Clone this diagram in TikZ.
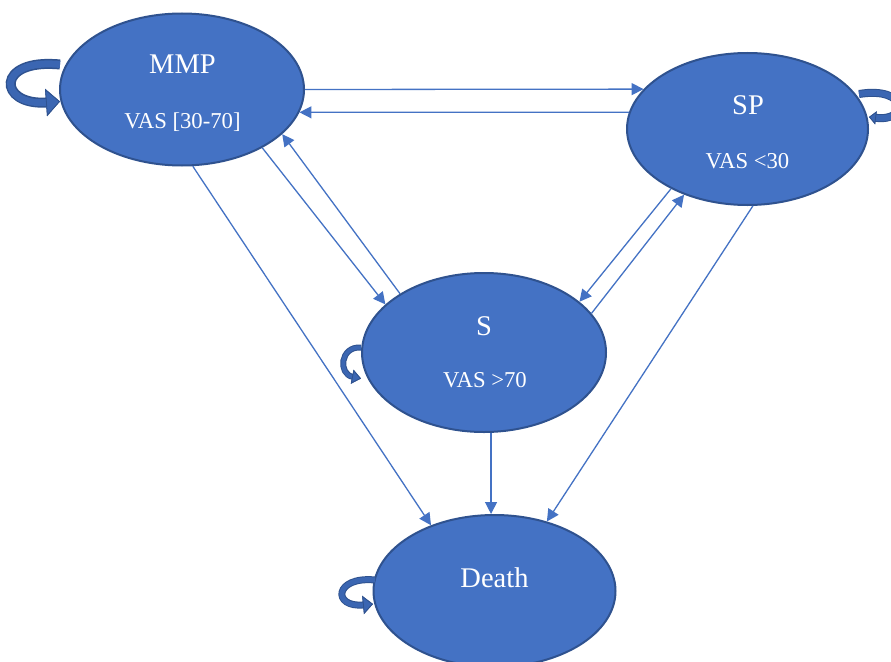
\documentclass[tikz,border=0pt]{standalone}
\usepackage{fontspec}
\setmainfont{Liberation Serif}
\usetikzlibrary{shapes.geometric,arrows.meta,calc}
\definecolor{fillc}{HTML}{4472C4}
\definecolor{edgec}{HTML}{2F528F}
\definecolor{loopc}{HTML}{3B66B2}
\begin{document}
\begin{tikzpicture}[x=1pt,y=-1pt,
  state/.style={ellipse, draw=edgec, fill=fillc, line width=2pt, inner sep=0pt},
  bigtxt/.style={text=white, font=\fontsize{28.5}{30}\selectfont, anchor=base, inner sep=0pt},
  smalltxt/.style={text=white, font=\fontsize{22.7}{25}\selectfont, anchor=base, inner sep=0pt},
  link/.style={draw=fillc, line width=1.3pt, -{Triangle[length=12pt,width=12pt]}},
  loopband/.style n args={4}{draw=loopc, line width=#1,
     -{Triangle[length=#3,width=#4,color=edgec,fill=loopc,line width=0.8pt]},
     preaction={draw=edgec, line width=#2, -{Triangle[length=#3,width=#4]}}},
]
\clip (0,0) rectangle (891,661);
\fill[white] (0,0) rectangle (891,661);

% states
\node[state, minimum width=244pt, minimum height=152pt] (mmp) at (182,89.5) {};
\node[state, minimum width=241pt, minimum height=152pt] (sp) at (747.5,129) {};
\node[state, minimum width=244pt, minimum height=159pt] (s) at (484,352.5) {};
\node[state, minimum width=242pt, minimum height=152pt] (death) at (494.5,591) {};

% texts
\node[bigtxt] (mmpT) at (182.5,74) {MMP};
\node[smalltxt] (mmpV) at (182.5,128) {VAS [30-70]};
\node[bigtxt] (spT) at (748,114) {SP};
\node[smalltxt] (spV) at (747.5,168) {VAS <30};
\node[bigtxt] (sT) at (484,335) {S};
\node[smalltxt] (sV) at (485,387) {VAS >70};
\node[bigtxt] (deathT) at (494.5,587) {Death};

% connectors
\draw[link] (mmp.0) -- (sp.159);
\draw[link] (sp.172) -- (mmp.-11);
\draw[link] (mmp.-36) -- (s.154);
\draw[link] (s.145) -- (mmp.-24);
\draw[link] (sp.-142.5) -- (s.28);
\draw[link] (s.20) -- (sp.-134);
\draw[link] (mmp.-82) -- (death.134);
\draw[link] (s.-85) -- (s.-85 |- death.north);
\draw[link] (sp.-86) -- (death.53);

% self loops
\coordinate (mmpLa) at ($(mmp.west)+(1,-25)$);
\coordinate (mmpLb) at ($(mmp.west)+(1,12)$);
\draw[loopband={7pt}{10pt}{14pt}{27pt}] (mmpLa) .. controls (-5,58) and (-2,106) .. (mmpLb);

\coordinate (spLa) at ($(sp.east)+(-10,-35)$);
\coordinate (spLb) at ($(sp.east)+(0,-12)$);
\draw[loopband={6pt}{8pt}{7pt}{13pt}] (spLa) .. controls (908,86) and (910,122) .. (spLb);

\coordinate (sLa) at ($(s.west)+(0,-5)$);
\coordinate (sLb) at ($(s.west)+(0,26)$);
\draw[loopband={4pt}{6pt}{9pt}{14pt}] (sLa) .. controls (340,346) and (338,374) .. (sLb);

\coordinate (dLa) at ($(death.west)+(2.5,-11)$);
\coordinate (dLb) at ($(death.west)+(0.5,13)$);
\draw[loopband={5pt}{7pt}{10pt}{18pt}] (dLa) .. controls (334,576) and (332,608) .. (dLb);
\end{tikzpicture}
\end{document}
